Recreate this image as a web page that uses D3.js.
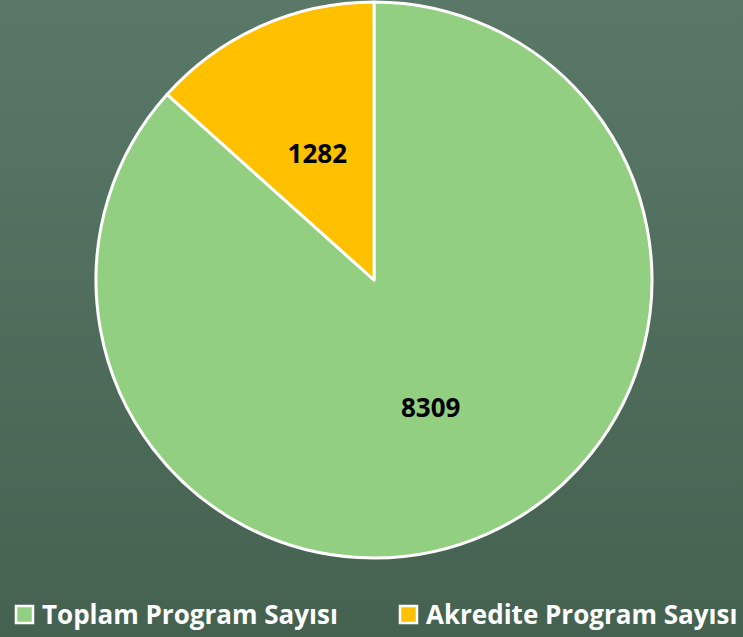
<!DOCTYPE html>
<html>
<head>
<meta charset="utf-8">
<script src="https://cdn.jsdelivr.net/npm/d3@7"></script>
<style>
    body { margin: 0; overflow: hidden; }
    .slice-label { font-family: "Open Sans", sans-serif; font-weight: bold; font-size: 26px; fill: #000; }
    .legend-text { font-family: "Open Sans", sans-serif; font-weight: bold; font-size: 26px; fill: #fff; }
</style>
</head>
<body>
<script>
var categories = ["Toplam Program Sayısı", "Akredite Program Sayısı"];
var values = [8309, 1282];
var colors = ["#93cf80", "#ffc000"];

var width = 743, height = 637;
var cx = 374, cy = 280, radius = 278;

var svg = d3.select("body").append("svg")
    .attr("width", width)
    .attr("height", height);

var grad = svg.append("defs").append("linearGradient")
    .attr("id", "bg")
    .attr("x1", 0).attr("y1", 0).attr("x2", 0).attr("y2", 1);
grad.append("stop").attr("offset", "0%").attr("stop-color", "#5a7867");
grad.append("stop").attr("offset", "100%").attr("stop-color", "#456251");

svg.append("rect")
    .attr("width", width)
    .attr("height", height)
    .attr("fill", "url(#bg)");

var data = categories.map(function(c, i) {
    return {name: c, value: values[i], color: colors[i]};
});

var pie = d3.pie()
    .sort(null)
    .value(function(d) { return d.value; });

var arc = d3.arc()
    .innerRadius(0)
    .outerRadius(radius);

var g = svg.append("g")
    .attr("transform", "translate(" + cx + "," + cy + ")");

var arcs = pie(data);

g.selectAll(".slice")
    .data(arcs)
    .enter()
    .append("path")
    .attr("class", "slice")
    .attr("d", arc)
    .attr("fill", function(d) { return d.data.color; })
    .attr("stroke", "#fff")
    .attr("stroke-width", 3)
    .attr("stroke-linejoin", "round");

g.selectAll(".slice-label")
    .data(arcs)
    .enter()
    .append("text")
    .attr("class", "slice-label")
    .attr("text-anchor", "middle")
    .attr("dominant-baseline", "central")
    .attr("transform", function(d) { return "translate(" + arc.centroid(d) + ")"; })
    .text(function(d) { return d.data.value; });

// legend
var legendX = [15, 399];
var legend = svg.selectAll(".legend")
    .data(data)
    .enter()
    .append("g")
    .attr("class", "legend")
    .attr("transform", function(d, i) { return "translate(" + legendX[i] + ",605)"; });

legend.append("rect")
    .attr("x", 1)
    .attr("y", 1)
    .attr("width", 17)
    .attr("height", 17)
    .attr("fill", function(d) { return d.color; })
    .attr("stroke", "#fff")
    .attr("stroke-width", 2.5);

legend.append("text")
    .attr("class", "legend-text")
    .attr("x", 27)
    .attr("y", 9)
    .attr("dominant-baseline", "central")
    .text(function(d) { return d.name; });
</script>
</body>
</html>
